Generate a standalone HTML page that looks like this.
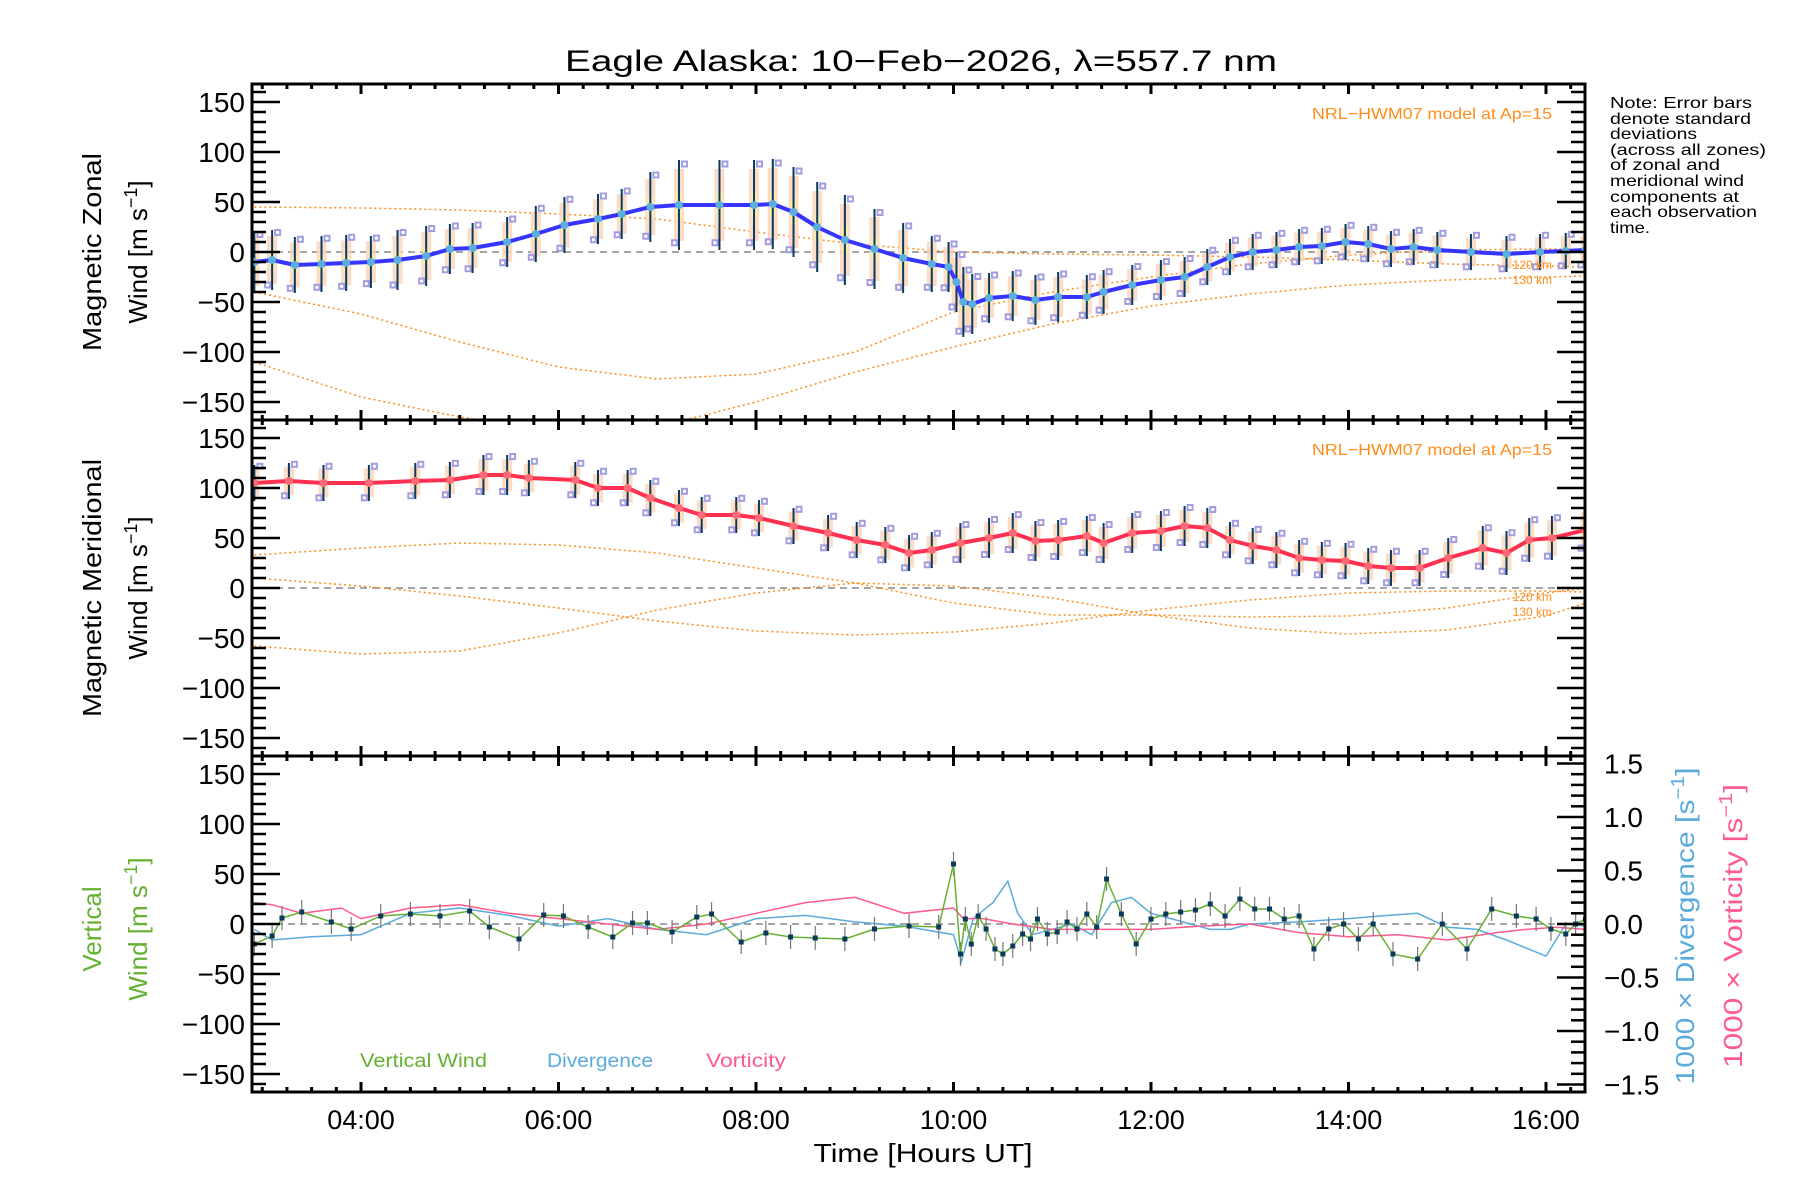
<!DOCTYPE html>
<html><head><meta charset="utf-8"><style>
html,body{margin:0;padding:0;background:#fff;}
svg{display:block;font-family:"Liberation Sans",sans-serif;}
</style></head><body>
<svg id="c" width="1800" height="1200" viewBox="0 0 1800 1200" xmlns="http://www.w3.org/2000/svg">
<defs>
<clipPath id="cp0"><rect x="252" y="84" width="1333" height="336"/></clipPath>
<clipPath id="cp1"><rect x="252" y="420" width="1333" height="336"/></clipPath>
<clipPath id="cp2"><rect x="252" y="756" width="1333" height="336"/></clipPath>
</defs>
<text x="565" y="71" font-size="30" textLength="712" lengthAdjust="spacingAndGlyphs">Eagle Alaska: 10−Feb−2026, λ=557.7 nm</text>
<g id="layer"></g>
<text transform="translate(101,252) rotate(-90)" text-anchor="middle" font-size="26" textLength="198" lengthAdjust="spacingAndGlyphs">Magnetic Zonal</text>
<text transform="translate(147,252) rotate(-90)" text-anchor="middle" font-size="26">Wind [m s<tspan dy="-10" font-size="18">−1</tspan><tspan dy="10">]</tspan></text>
<text transform="translate(101,588) rotate(-90)" text-anchor="middle" font-size="26" textLength="258" lengthAdjust="spacingAndGlyphs">Magnetic Meridional</text>
<text transform="translate(147,588) rotate(-90)" text-anchor="middle" font-size="26">Wind [m s<tspan dy="-10" font-size="18">−1</tspan><tspan dy="10">]</tspan></text>
<text transform="translate(101,929) rotate(-90)" text-anchor="middle" font-size="26" fill="#66b032">Vertical</text>
<text transform="translate(147,929) rotate(-90)" text-anchor="middle" font-size="26" fill="#66b032">Wind [m s<tspan dy="-10" font-size="18">−1</tspan><tspan dy="10">]</tspan></text>
<text transform="translate(1694,926) rotate(-90)" text-anchor="middle" font-size="26" fill="#5aaadc" textLength="317" lengthAdjust="spacingAndGlyphs">1000 × Divergence [s<tspan dy="-10" font-size="18">−1</tspan><tspan dy="10">]</tspan></text>
<text transform="translate(1742,926) rotate(-90)" text-anchor="middle" font-size="26" fill="#ff5a8c" textLength="284" lengthAdjust="spacingAndGlyphs">1000 × Vorticity [s<tspan dy="-10" font-size="18">−1</tspan><tspan dy="10">]</tspan></text>
<text x="923" y="1162" text-anchor="middle" font-size="26" textLength="219" lengthAdjust="spacingAndGlyphs">Time [Hours UT]</text>
<text x="1552" y="119" text-anchor="end" font-size="16" fill="#ff8c1a" textLength="240" lengthAdjust="spacingAndGlyphs">NRL−HWM07 model at Ap=15</text>
<text x="1552" y="455" text-anchor="end" font-size="16" fill="#ff8c1a" textLength="240" lengthAdjust="spacingAndGlyphs">NRL−HWM07 model at Ap=15</text>
<text x="1552" y="269" text-anchor="end" font-size="12" fill="#ff8c1a">120 km</text>
<text x="1552" y="284" text-anchor="end" font-size="12" fill="#ff8c1a">130 km</text>
<text x="1552" y="601" text-anchor="end" font-size="12" fill="#ff8c1a">120 km</text>
<text x="1552" y="616" text-anchor="end" font-size="12" fill="#ff8c1a">130 km</text>
<text x="360" y="1067" font-size="19" fill="#66b032" textLength="127" lengthAdjust="spacingAndGlyphs">Vertical Wind</text>
<text x="547" y="1067" font-size="19" fill="#5aaadc" textLength="106" lengthAdjust="spacingAndGlyphs">Divergence</text>
<text x="706" y="1067" font-size="19" fill="#ff5a8c" textLength="80" lengthAdjust="spacingAndGlyphs">Vorticity</text>
<g font-size="16" lengthAdjust="spacingAndGlyphs">
<text x="1610" y="108" textLength="142" lengthAdjust="spacingAndGlyphs">Note: Error bars</text>
<text x="1610" y="124" textLength="141" lengthAdjust="spacingAndGlyphs">denote standard</text>
<text x="1610" y="139" textLength="87" lengthAdjust="spacingAndGlyphs">deviations</text>
<text x="1610" y="155" textLength="156" lengthAdjust="spacingAndGlyphs">(across all zones)</text>
<text x="1610" y="170" textLength="110" lengthAdjust="spacingAndGlyphs">of zonal and</text>
<text x="1610" y="186" textLength="134" lengthAdjust="spacingAndGlyphs">meridional wind</text>
<text x="1610" y="202" textLength="129" lengthAdjust="spacingAndGlyphs">components at</text>
<text x="1610" y="217" textLength="147" lengthAdjust="spacingAndGlyphs">each observation</text>
<text x="1610" y="233" textLength="40" lengthAdjust="spacingAndGlyphs">time.</text>
</g>
</svg>
<script>
const zonT=[2.92,3.1,3.33,3.6,3.85,4.1,4.37,4.66,4.9,5.13,5.48,5.77,6.06,6.4,6.64,6.93,7.22,7.63,7.98,8.17,8.38,8.62,8.9,9.2,9.49,9.78,9.95,10.03,10.1,10.19,10.36,10.6,10.83,11.06,11.35,11.52,11.81,12.1,12.34,12.57,12.8,13.03,13.27,13.5,13.73,13.97,14.2,14.43,14.66,14.9,15.24,15.6,15.94,16.2,16.4];
const zonV=[-10,-8,-13,-12,-11,-10,-8,-4,3,4,10,18,27,33,38,45,47,47,47,48,40,25,12,3,-6,-12,-15,-30,-50,-52,-46,-44,-48,-45,-45,-40,-33,-28,-25,-15,-5,0,2,5,6,10,8,3,5,2,0,-2,0,1,2];
const zonE=[30,30,28,28,28,26,30,30,25,25,25,28,28,25,25,35,45,45,45,45,45,45,45,40,35,28,25,30,35,30,25,25,25,25,22,22,20,20,20,18,18,18,18,18,18,18,18,18,18,18,18,18,18,18,18];
const merT=[2.92,3.27,3.62,4.08,4.55,4.9,5.24,5.48,5.7,6.17,6.4,6.7,6.93,7.22,7.45,7.8,8.03,8.38,8.73,9.02,9.31,9.55,9.78,10.07,10.36,10.6,10.83,11.06,11.35,11.52,11.81,12.1,12.34,12.57,12.8,13.03,13.27,13.5,13.73,13.97,14.2,14.43,14.72,15.01,15.36,15.6,15.83,16.06,16.4];
const merV=[105,107,105,105,107,108,113,113,110,108,100,100,90,80,73,73,70,62,55,48,43,35,38,45,50,55,47,48,52,45,55,57,62,60,48,42,38,30,28,27,22,20,20,30,40,35,48,50,58];
const merE=[18,18,18,18,18,18,20,20,18,18,18,18,18,18,18,18,18,18,18,18,18,18,18,20,20,20,20,20,20,20,20,20,20,20,18,18,18,18,18,18,18,18,18,20,22,22,22,22,22];
const modT=[2.92,4.0,5.0,6.0,7.0,8.0,9.0,10.0,11.0,12.0,13.0,14.0,15.0,16.0,16.4];
const zonM1=[45,44,42,38,33,20,8,0,-2,-3,-5,-8,-12,-14,-15];
const zonM2=[-40,-62,-90,-115,-127,-122,-100,-60,-40,-25,-12,-3,2,3,3];
const zonM3=[-110,-145,-165,-180,-175,-150,-120,-95,-72,-54,-42,-33,-28,-25,-24];
const merM1=[33,40,45,43,35,20,5,-15,-27,-27,-29,-28,-20,-5,0];
const merM2=[10,2,-8,-20,-33,-43,-47,-44,-35,-22,-12,-5,-3,-3,-4];
const merM3=[-58,-66,-63,-45,-22,-5,5,2,-10,-27,-40,-46,-42,-28,-15];
const vwT=[2.92,3.1,3.2,3.4,3.7,3.9,4.2,4.5,4.8,5.1,5.3,5.6,5.85,6.05,6.3,6.55,6.75,6.9,7.15,7.4,7.55,7.85,8.1,8.35,8.6,8.9,9.2,9.55,9.85,10.0,10.07,10.12,10.18,10.25,10.33,10.42,10.5,10.6,10.7,10.78,10.85,10.95,11.05,11.15,11.25,11.35,11.45,11.55,11.7,11.85,12.0,12.15,12.3,12.45,12.6,12.75,12.9,13.05,13.2,13.35,13.5,13.65,13.8,13.95,14.1,14.25,14.45,14.7,14.95,15.2,15.45,15.7,15.9,16.05,16.2,16.3,16.4];
const vwV=[-20,-12,6,12,2,-5,8,10,8,13,-3,-15,9,8,-3,-13,1,1,-8,7,10,-18,-9,-13,-14,-15,-5,-2,-3,60,-30,5,-20,8,-5,-25,-30,-22,-10,-15,5,-10,-8,2,-5,10,-3,45,10,-20,5,10,12,14,20,8,25,15,15,5,8,-25,-5,0,-15,0,-30,-35,0,-25,15,8,5,-5,-10,0,5];
const divT=[2.92,3.1,3.5,4.0,4.5,5.0,5.5,6.0,6.5,7.0,7.5,8.0,8.5,9.0,9.5,10.0,10.08,10.2,10.4,10.55,10.65,10.8,11.0,11.2,11.4,11.6,11.8,12.0,12.2,12.4,12.6,12.8,13.0,13.5,14.0,14.4,14.7,15.0,15.3,15.6,16.0,16.2,16.4];
const divV=[-0.05,-0.15,-0.12,-0.1,0.1,0.15,0.08,-0.02,0.05,-0.05,-0.1,0.05,0.08,0.02,-0.02,-0.1,-0.35,0.05,0.2,0.4,0.1,-0.1,-0.05,0.0,-0.1,0.2,0.25,0.1,0.05,0.0,-0.05,-0.05,0.0,0.02,0.05,0.08,0.1,-0.03,-0.05,-0.15,-0.3,0.0,-0.02];
const vorT=[2.92,3.1,3.4,3.8,4.0,4.5,5.0,5.5,6.0,6.5,7.0,7.5,8.0,8.5,9.0,9.5,10.0,10.1,10.3,10.6,11.0,11.5,12.0,12.5,13.0,13.5,14.0,14.5,15.0,15.5,15.8,16.1,16.4];
const vorV=[0.2,0.18,0.1,0.15,0.05,0.15,0.18,0.1,0.05,0.0,-0.05,0.0,0.1,0.2,0.25,0.1,0.15,0.05,0.05,0.0,-0.05,-0.05,-0.05,-0.02,0.0,-0.08,-0.12,-0.1,-0.15,-0.08,-0.05,-0.03,-0.05];
const xTickLabels=["04:00","06:00","08:00","10:00","12:00","14:00","16:00"];
const xTickHours=[4,6,8,10,12,14,16];
const yTickVals=[150,100,50,0,-50,-100,-150];
const yTickLabels=["150","100","50","0","−50","−100","−150"];
const rTickVals=[1.5,1.0,0.5,0.0,-0.5,-1.0,-1.5];
const rTickLabels=["1.5","1.0","0.5","0.0","−0.5","−1.0","−1.5"];

const L=252,R=1585,T=84,PH=336;
const X=t=>361+(t-4)*98.75;
const Y=(v,p)=>T+PH*p+168-v;
const YR=v=>924-v*107;
const NS="http://www.w3.org/2000/svg";
const layer=document.getElementById('layer');
function mk(tag,at,parent){const e=document.createElementNS(NS,tag);for(const k in at)e.setAttribute(k,at[k]);(parent||layer).appendChild(e);return e;}
function grp(name,clip){const g=mk('g',clip?{'clip-path':'url(#'+clip+')'}:{});


return g;}
function poly(ts,vs,yf,attrs,parent){return mk('polyline',Object.assign({points:ts.map((t,i)=>X(t).toFixed(1)+','+yf(vs[i]).toFixed(1)).join(' '),fill:'none'},attrs),parent);}

for(let p=0;p<3;p++){const g=grp('zero-line-panel-'+(p+1),'cp'+p);mk('line',{x1:L,x2:R,y1:Y(0,p),y2:Y(0,p),stroke:'#888','stroke-width':1.5,'stroke-dasharray':'7,5'},g);}
const zm=grp('model-curves-zonal','cp0');
[zonM1,zonM2,zonM3].forEach((m,i)=>poly(modT,m,v=>Y(v,0),{stroke:'#ff8c1a','stroke-width':1.5,'stroke-dasharray':'2,3'},zm));
const mm=grp('model-curves-meridional','cp1');
[merM1,merM2,merM3].forEach((m,i)=>poly(modT,m,v=>Y(v,1),{stroke:'#ff8c1a','stroke-width':1.5,'stroke-dasharray':'2,3'},mm));
function pale(ts,vs,es,p,name){const g=grp(name,'cp'+p);
ts.forEach((t,i)=>{const x=X(t);
mk('rect',{x:x-5,y:Y(vs[i]+es[i]*0.8,p),width:10,height:es[i]*1.6,fill:'#fbd3b8',opacity:0.8},g);
mk('rect',{x:x-3,y:Y(vs[i]+es[i]*0.3,p),width:6,height:es[i]*0.6,fill:'#f7f0a8',opacity:0.8},g);
mk('rect',{x:x+3,y:Y(vs[i]+es[i]*0.9,p)-3,width:5,height:5,fill:'none',stroke:'#a49ce0','stroke-width':2},g);
mk('rect',{x:x-7,y:Y(vs[i]-es[i]*0.85,p)-3,width:5,height:5,fill:'none',stroke:'#a49ce0','stroke-width':2},g);});}
pale(zonT,zonV,zonE,0,'zonal-zone-scatter');
pale(merT,merV,merE,1,'meridional-zone-scatter');
function series(ts,vs,es,p,col,name){const g=grp(name,'cp'+p);
ts.forEach((t,i)=>mk('line',{x1:X(t),x2:X(t),y1:Y(vs[i]+es[i],p),y2:Y(vs[i]-es[i],p),stroke:'#0a3a5a','stroke-width':2},g));
poly(ts,vs,v=>Y(v,p),{stroke:col,'stroke-width':4,'stroke-linejoin':'round'},g);
ts.forEach((t,i)=>mk('circle',{cx:X(t),cy:Y(vs[i],p),r:4,fill:p==0?'#5aafdf':'#ff6a7a'},g));}
series(zonT,zonV,zonE,0,'#3535ff','zonal-wind-series');
series(merT,merV,merE,1,'#ff3050','meridional-wind-series');
const dg=grp('divergence-line','cp2');poly(divT,divV,YR,{stroke:'#5aaadc','stroke-width':1.5},dg);
const vg=grp('vorticity-line','cp2');poly(vorT,vorV,YR,{stroke:'#ff5a8c','stroke-width':1.5},vg);
const wg=grp('vertical-wind-series','cp2');
vwT.forEach((t,i)=>mk('line',{x1:X(t),x2:X(t),y1:Y(vwV[i]+12,2),y2:Y(vwV[i]-12,2),stroke:'#777','stroke-width':1.2},wg));
poly(vwT,vwV,v=>Y(v,2),{stroke:'#66b032','stroke-width':1.5},wg);
vwT.forEach((t,i)=>mk('rect',{x:X(t)-2.5,y:Y(vwV[i],2)-2.5,width:5,height:5,fill:'#0a3a5a'},wg));

const ax=grp('axes',null);
for(let p=0;p<3;p++){mk('rect',{x:L,y:T+PH*p,width:R-L,height:PH,fill:'none',stroke:'#000','stroke-width':3},ax);
for(let v=-160;v<=160;v+=10){const y=Y(v,p);const maj=v%50==0;const len=maj?28:14;
mk('line',{x1:L,x2:L+len,y1:y,y2:y,stroke:'#000','stroke-width':2.5},ax);
if(p<2)mk('line',{x1:R,x2:R-len,y1:y,y2:y,stroke:'#000','stroke-width':2.5},ax);}
yTickVals.forEach((v,i)=>{const t=mk('text',{x:245,y:Y(v,p)+10,'text-anchor':'end','font-size':28},ax);t.textContent=yTickLabels[i];

});
for(let h=3;h<=16.4;h+=0.25){const x=X(h);const maj=Math.abs(h-Math.round(h))<0.01&&Math.round(h)%2==0;const len=maj?10:5;
mk('line',{x1:x,x2:x,y1:T+PH*p,y2:T+PH*p+len,stroke:'#000','stroke-width':3},ax);
mk('line',{x1:x,x2:x,y1:T+PH*(p+1),y2:T+PH*(p+1)-len,stroke:'#000','stroke-width':3},ax);}}
for(let k=-15;k<=15;k++){const v=k/10;const y=YR(v);const maj=k%5==0;mk('line',{x1:R,x2:R-(maj?28:14),y1:y,y2:y,stroke:'#000','stroke-width':2.5},ax);}
rTickVals.forEach((v,i)=>{const t=mk('text',{x:1604,y:YR(v)+10,'font-size':28},ax);t.textContent=rTickLabels[i];

});
xTickHours.forEach((h,i)=>{const t=mk('text',{x:X(h),y:1129,'text-anchor':'middle','font-size':27},ax);t.textContent=xTickLabels[i];

});
</script>
</body></html>
